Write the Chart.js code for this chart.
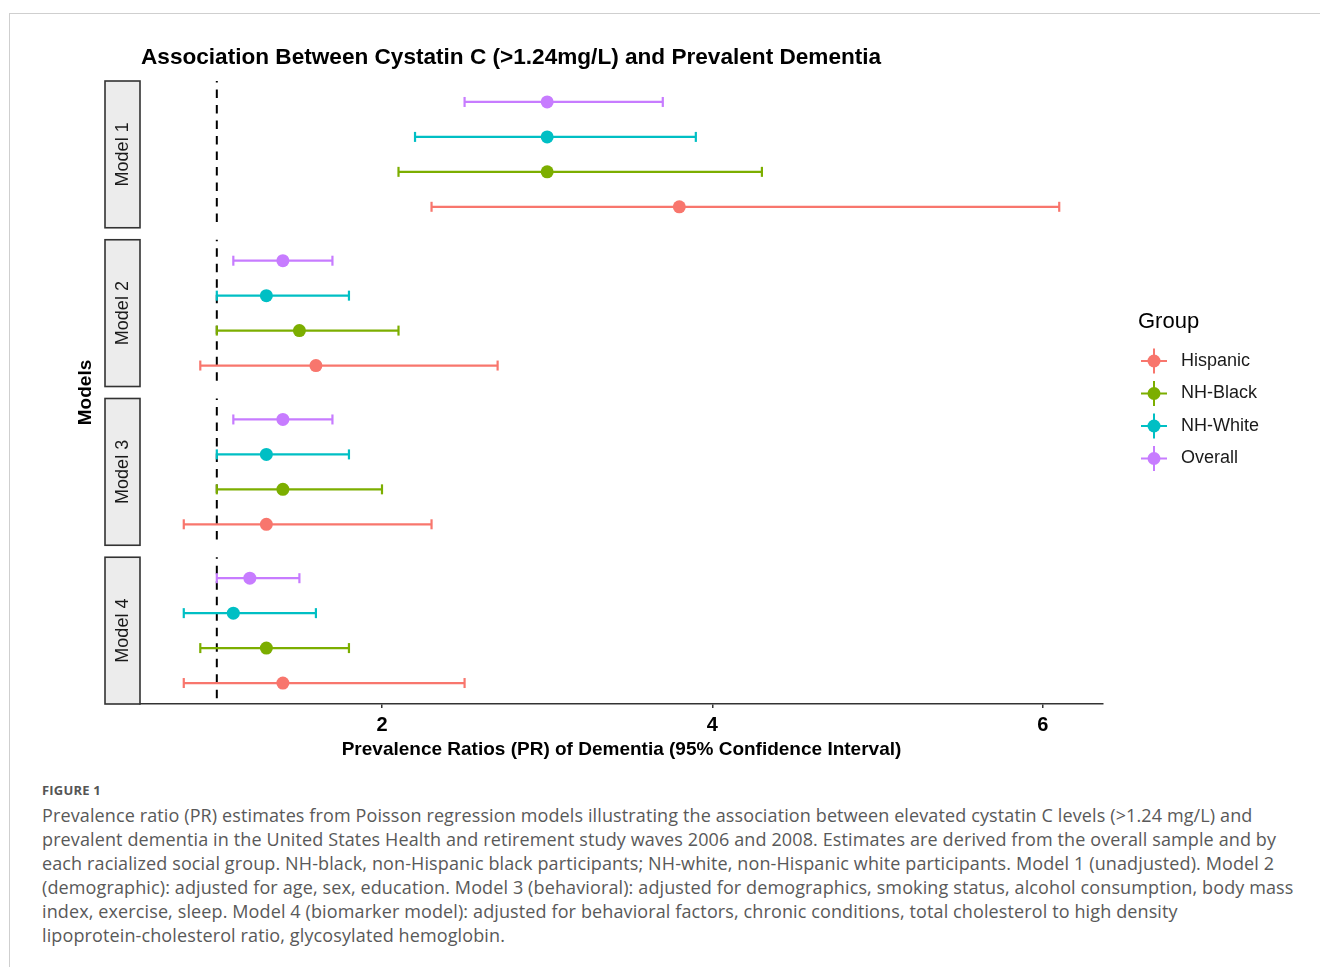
<!DOCTYPE html>
<html>
<head>
<meta charset="utf-8">
<script src="https://cdn.jsdelivr.net/npm/chart.js@4/dist/chart.umd.min.js"></script>
<style>
  html, body { margin: 0; padding: 0; background: #fff; overflow: hidden; }
  body { width: 1320px; height: 967px; position: relative; }
  #frame { position: absolute; left: 9px; top: 13px; width: 1400px; height: 1000px;
           border-left: 1px solid #cfcfcf; border-top: 1px solid #cfcfcf; }
  #wrap { position: absolute; left: 0; top: 0; width: 1320px; height: 775px; }
  #caption { position: absolute; left: 42px; top: 780px; color: #595959; font-family: "Open Sans", Lato, sans-serif; }
  #caption .fig { font-weight: bold; font-size: 13px; letter-spacing: 0.2px; color: #555; line-height: 20px; }
  #caption .txt { font-size: 18px; letter-spacing: 0.12px; line-height: 24px; white-space: nowrap; margin-top: 3px; }
</style>
</head>
<body>
<div id="frame"></div>
<div id="wrap"><canvas id="myChart" width="1320" height="775"></canvas></div>
<div id="caption">
  <div class="fig">FIGURE 1</div>
  <div class="txt">Prevalence ratio (PR) estimates from Poisson regression models illustrating the association between elevated cystatin C levels (&gt;1.24 mg/L) and<br>prevalent dementia in the United States Health and retirement study waves 2006 and 2008. Estimates are derived from the overall sample and by<br>each racialized social group. NH-black, non-Hispanic black participants; NH-white, non-Hispanic white participants. Model 1 (unadjusted). Model 2<br>(demographic): adjusted for age, sex, education. Model 3 (behavioral): adjusted for demographics, smoking status, alcohol consumption, body mass<br>index, exercise, sleep. Model 4 (biomarker model): adjusted for behavioral factors, chronic conditions, total cholesterol to high density<br>lipoprotein-cholesterol ratio, glycosylated hemoglobin.</div>
</div>
<script>
// Datos (PR y IC 95%), un valor por modelo
var models = ["Model 1", "Model 2", "Model 3", "Model 4"];
// orden de filas dentro de cada panel, de arriba a abajo
var rowGroups = ["Overall", "NH-White", "NH-Black", "Hispanic"];
// orden de la leyenda
var legendGroups = ["Hispanic", "NH-Black", "NH-White", "Overall"];
var xTicks = [2, 4, 6];

var prOverall = [3.0, 1.4, 1.4, 1.2];
var lowOverall = [2.5, 1.1, 1.1, 1.0];
var highOverall = [3.7, 1.7, 1.7, 1.5];

var prWhite = [3.0, 1.3, 1.3, 1.1];
var lowWhite = [2.2, 1.0, 1.0, 0.8];
var highWhite = [3.9, 1.8, 1.8, 1.6];

var prBlack = [3.0, 1.5, 1.4, 1.3];
var lowBlack = [2.1, 1.0, 1.0, 0.9];
var highBlack = [4.3, 2.1, 2.0, 1.8];

var prHispanic = [3.8, 1.6, 1.3, 1.4];
var lowHispanic = [2.3, 0.9, 0.8, 0.8];
var highHispanic = [6.1, 2.7, 2.3, 2.5];

var refLine = 1;

var colors = {
  "Hispanic": "#F8766D",
  "NH-Black": "#7CAE00",
  "NH-White": "#00BFC4",
  "Overall": "#C77CFF"
};

var series = {
  "Overall": { pr: prOverall, low: lowOverall, high: highOverall },
  "NH-White": { pr: prWhite, low: lowWhite, high: highWhite },
  "NH-Black": { pr: prBlack, low: lowBlack, high: highBlack },
  "Hispanic": { pr: prHispanic, low: lowHispanic, high: highHispanic }
};

// escala vertical: cada panel ocupa 4 filas + 0.6 de margen arriba y abajo
var panelSize = rowGroups.length - 1 + 1.2;
var panelGap = 0.343;
function panelStart(m) { return m * (panelSize + panelGap); }
function rowY(m, r) { return panelStart(m) + 0.6 + r; }
var yMax = panelStart(models.length - 1) + panelSize;

var FONT = "'Liberation Sans', Arial, sans-serif";

var datasets = [];
rowGroups.forEach(function (g, r) {
  var s = series[g];
  models.forEach(function (mName, m) {
    datasets.push({
      type: "scatter",
      showLine: true,
      data: [{ x: s.low[m], y: rowY(m, r) }, { x: s.high[m], y: rowY(m, r) }],
      borderColor: colors[g],
      borderWidth: 2.2,
      pointStyle: "line",
      rotation: 90,
      pointRadius: 5,
      pointBorderWidth: 2.2,
      pointBorderColor: colors[g],
      pointHoverRadius: 5,
      order: 2
    });
  });
  datasets.push({
    type: "scatter",
    label: g,
    data: models.map(function (mName, m) { return { x: s.pr[m], y: rowY(m, r) }; }),
    backgroundColor: colors[g],
    borderWidth: 0,
    pointRadius: 6.5,
    pointHoverRadius: 6.5,
    order: 1
  });
});

// dibuja tiras de panel, línea de referencia, título y leyenda
var decorations = {
  id: "decorations",
  beforeDatasetsDraw: function (chart) {
    var ctx = chart.ctx, area = chart.chartArea;
    var xs = chart.scales.x, ys = chart.scales.y;
    ctx.save();
    models.forEach(function (name, m) {
      var top = ys.getPixelForValue(panelStart(m));
      var bottom = ys.getPixelForValue(panelStart(m) + panelSize);
      // línea discontinua en PR = 1
      ctx.beginPath();
      ctx.setLineDash([8.5, 7]);
      ctx.lineDashOffset = 7;
      ctx.strokeStyle = "#000";
      ctx.lineWidth = 2;
      var x1 = xs.getPixelForValue(refLine);
      ctx.moveTo(x1, top);
      ctx.lineTo(x1, bottom);
      ctx.stroke();
      ctx.setLineDash([]);
      // tira del panel
      ctx.fillStyle = "#ececec";
      ctx.fillRect(area.left - 35, top, 35, bottom - top);
      ctx.strokeStyle = "#333";
      ctx.lineWidth = 1.6;
      ctx.strokeRect(area.left - 35, top, 35, bottom - top);
      ctx.save();
      ctx.translate(area.left - 17, (top + bottom) / 2);
      ctx.rotate(-Math.PI / 2);
      ctx.fillStyle = "#1a1a1a";
      ctx.font = "18px " + FONT;
      ctx.textAlign = "center";
      ctx.textBaseline = "middle";
      ctx.fillText(name, 0, 0);
      ctx.restore();
    });
    // título del eje y
    ctx.save();
    ctx.translate(area.left - 54, (area.top + area.bottom) / 2);
    ctx.rotate(-Math.PI / 2);
    ctx.fillStyle = "#000";
    ctx.font = "bold 19px " + FONT;
    ctx.textAlign = "center";
    ctx.textBaseline = "middle";
    ctx.fillText("Models", 0, 0);
    ctx.restore();
    // título
    ctx.fillStyle = "#000";
    ctx.font = "bold 22.6px " + FONT;
    ctx.textAlign = "left";
    ctx.textBaseline = "middle";
    ctx.fillText("Association Between Cystatin C (>1.24mg/L) and Prevalent Dementia", area.left + 1, area.top - 23);
    // leyenda
    var cy = (area.top + area.bottom) / 2;
    ctx.font = "22px " + FONT;
    ctx.fillStyle = "#000";
    ctx.fillText("Group", area.right + 35, cy - 71);
    legendGroups.forEach(function (g, i) {
      var y = cy - 31.5 + i * 32.5;
      var kx = area.right + 51;
      ctx.strokeStyle = colors[g];
      ctx.lineWidth = 2;
      ctx.beginPath();
      ctx.moveTo(kx - 13, y);
      ctx.lineTo(kx + 13, y);
      ctx.moveTo(kx, y - 12.5);
      ctx.lineTo(kx, y + 12.5);
      ctx.stroke();
      ctx.beginPath();
      ctx.arc(kx, y, 6.5, 0, Math.PI * 2);
      ctx.fillStyle = colors[g];
      ctx.fill();
      ctx.fillStyle = "#1a1a1a";
      ctx.font = "18px " + FONT;
      ctx.fillText(g, area.right + 78, y);
    });
    ctx.restore();
  }
};

var ctx = document.getElementById("myChart").getContext("2d");
var chart = new Chart(ctx, {
  type: "scatter",
  data: { datasets: datasets },
  options: {
    responsive: false,
    animation: false,
    layout: { padding: { left: 140, right: 217, top: 81, bottom: 0 } },
    plugins: {
      legend: { display: false },
      tooltip: { enabled: false },
      title: { display: false }
    },
    scales: {
      x: {
        type: "linear",
        min: 0.535,
        max: 6.365,
        afterBuildTicks: function (axis) {
          axis.ticks = xTicks.map(function (v) { return { value: v }; });
        },
        afterFit: function (axis) { axis.height = 71; },
        grid: { display: true, drawOnChartArea: false, drawTicks: true, tickLength: 4, color: "#333", lineWidth: 1.5 },
        border: { display: true, color: "#333", width: 1.6 },
        ticks: {
          color: "#000",
          padding: 5,
          font: { family: FONT, size: 20, weight: "bold" }
        },
        title: {
          display: true,
          text: "Prevalence Ratios (PR) of Dementia (95% Confidence Interval)",
          color: "#000",
          font: { family: FONT, size: 19, weight: "bold" },
          padding: { top: 14, bottom: 14 }
        }
      },
      y: {
        type: "linear",
        display: false,
        reverse: true,
        min: 0,
        max: yMax
      }
    }
  },
  plugins: [decorations]
});
</script>
</body>
</html>
